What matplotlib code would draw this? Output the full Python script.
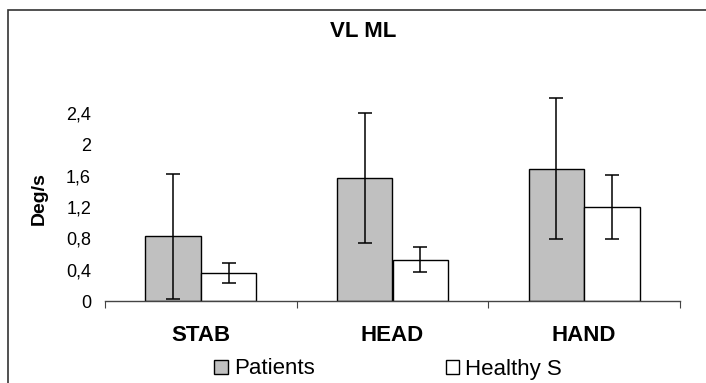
import numpy as np
import matplotlib.pyplot as plt
from matplotlib.patches import Rectangle

plt.rcParams['font.family'] = ['Liberation Sans', 'DejaVu Sans']

categories = ['STAB', 'HEAD', 'HAND']
patients = [0.83, 1.57, 1.69]
patients_err = [0.80, 0.83, 0.90]
healthy = [0.36, 0.53, 1.20]
healthy_err = [0.13, 0.16, 0.41]
yticks = [0, 0.4, 0.8, 1.2, 1.6, 2.0, 2.4]
ytick_labels = ['0', '0,4', '0,8', '1,2', '1,6', '2', '2,4']

W, H = 706, 383
fig = plt.figure(figsize=(W / 100, H / 100), dpi=100)
ax = fig.add_axes([105 / W, 1 - 301 / H, 575 / W, (301 - 82) / H])

x = np.arange(len(categories))
bw = 0.29
ax.bar(x - bw / 2, patients, bw, color='#c0c0c0', edgecolor='black', linewidth=1.0,
       label='Patients', zorder=2)
ax.bar(x + bw / 2, healthy, bw, color='white', edgecolor='black', linewidth=1.0,
       label='Healthy S', zorder=2)
ax.errorbar(x - bw / 2, patients, yerr=patients_err, fmt='none', ecolor='black',
            elinewidth=1.1, capsize=4.7, capthick=1.1, zorder=3)
ax.errorbar(x + bw / 2, healthy, yerr=healthy_err, fmt='none', ecolor='black',
            elinewidth=1.1, capsize=4.7, capthick=1.1, zorder=3)

ax.set_xlim(-0.5, 2.5)
ax.set_ylim(0, 2.8)
for s in ['top', 'right', 'left']:
    ax.spines[s].set_visible(False)
ax.spines['bottom'].set_color('#444444')
ax.spines['bottom'].set_linewidth(1.0)

ax.set_yticks(yticks)
ax.set_yticklabels(ytick_labels, fontsize=13)
ax.tick_params(axis='y', length=0, pad=10)

ax.set_xticks([-0.5, 0.5, 1.5, 2.5])
ax.set_xticklabels([])
ax.tick_params(axis='x', which='major', length=5, color='#444444', direction='out')
ax.set_xticks(x, minor=True)
ax.set_xticklabels(categories, minor=True, fontsize=16, fontweight='bold')
ax.tick_params(axis='x', which='minor', length=0, pad=17)

fig.text(363 / W, 1 - 37 / H, 'VL ML', ha='center', va='baseline', fontsize=16, fontweight='bold')
fig.text(39 / W, 1 - 199 / H, 'Deg/s', ha='center', va='center', rotation=90,
         fontsize=14, fontweight='bold')

fig.legend(loc='center', bbox_to_anchor=(388 / W, 1 - 369 / H), ncol=2, frameon=False,
           fontsize=16, handlelength=0.6, handleheight=0.6, handletextpad=0.27,
           columnspacing=5.9, borderpad=0)

fig.patches.append(Rectangle((8 / W, -0.2), 1.2, 1.2 - 10 / H,
                             transform=fig.transFigure, fill=False,
                             edgecolor='#333333', linewidth=1.2))

fig.savefig('out.png', dpi=100)
